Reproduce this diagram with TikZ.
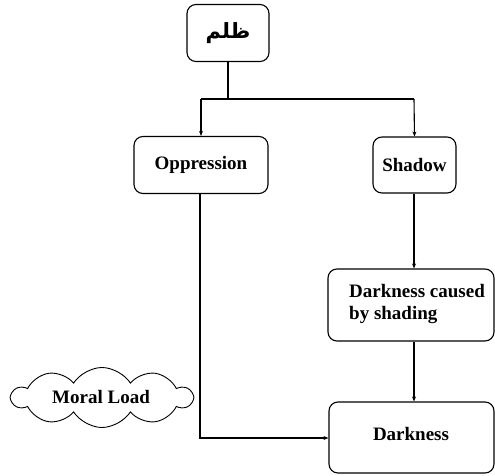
\documentclass[tikz,border=0pt]{standalone}
\usepackage{fontspec}
\setmainfont{Liberation Serif}
\newfontfamily\arabicfont[Script=Arabic]{DejaVu Sans}
\TeXXeTstate=1
\usetikzlibrary{shapes.symbols,arrows.meta}
\begin{document}
\begin{tikzpicture}[x=1pt,y=1pt,
  txt/.style={font=\fontsize{19}{22}\selectfont\bfseries,inner sep=0pt},
  box/.style={draw,line width=1.1pt,rounded corners=9pt,txt},
  conn/.style={line width=1.1pt,-{Stealth[length=5pt,width=4pt]}},
  plain/.style={line width=1.1pt}]
\useasboundingbox (0,0) rectangle (495,475);
\node[box,minimum width=82,minimum height=57] (top) at (228,442) {\arabicfont\fontsize{21}{25}\selectfont\beginR ظلم\endR};
\node[box,minimum width=134,minimum height=57] (opp) at (201,310) {Oppression};
\node[box,minimum width=83,minimum height=56] (sha) at (414.5,310) {Shadow};
\node[box,minimum width=166,minimum height=72] (dcs) at (411,170) {};
\node[txt,anchor=west,align=left] (dcst) at (349,171) {Darkness caused\\by shading};
\node[box,minimum width=165,minimum height=71] (dk) at (411.5,37.5) {};
\node[txt] (dkt) at (411,41) {Darkness};
\node[draw,cloud,cloud puffs=10,cloud puff arc=115,cloud ignores aspect,line width=0.9pt,minimum width=180,minimum height=60,inner sep=0pt] (ml) at (102,77.5) {};
\node[txt] (mlt) at (101,78) {Moral Load};
\coordinate (j) at (228,376);
\coordinate (jl) at (201,376);
\coordinate (jr) at (414,376);
\coordinate (b) at (200,37);
\draw[plain] (top.south) -- (j);
\draw[plain] (jl) -- (jr);
\draw[conn] (jl) -- (opp.north);
\draw[conn] (jr) -- (sha.north);
\draw[conn] (sha.south -| 414,0) -- (dcs.north -| 414,0);
\draw[conn] (dcs.south -| 414,0) -- (dk.north -| 414,0);
\draw[conn] (opp.south -| 200,0) -- (b) -- (dk.west |- b);
\end{tikzpicture}
\end{document}
